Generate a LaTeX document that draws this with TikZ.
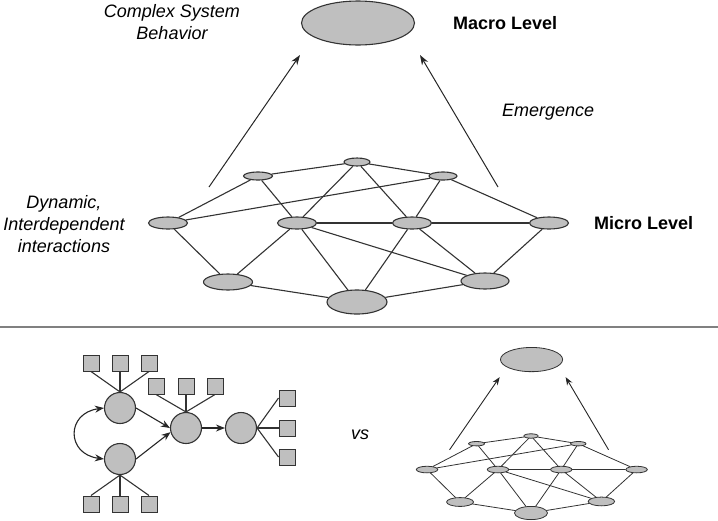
\documentclass[tikz,border=0pt]{standalone}
\usepackage{fontspec}
\setmainfont{Liberation Sans}
\usetikzlibrary{shapes.geometric,arrows.meta}
\tikzset{
  nodeline/.style={line width=1.1pt},
  netline/.style={draw=black!80, line width=1.1pt},
  uparrow/.style={draw=black!85, line width=1pt, -{Stealth[length=10pt,width=7pt]}},
  nd/.style={ellipse, draw=black!80, fill=gray!50, inner sep=0pt, nodeline},
  net/.pic={
    \node[nd,minimum width=113pt,minimum height=44pt] (-macro) at (1,-139) {};
    \node[nd,minimum width=26pt,minimum height=8pt] (-tm) at (0,0) {};
    \node[nd,minimum width=29pt,minimum height=8pt] (-ul) at (-99,14) {};
    \node[nd,minimum width=28pt,minimum height=8pt] (-ur) at (86,14) {};
    \node[nd,minimum width=39pt,minimum height=12pt] (-ml) at (-189,61) {};
    \node[nd,minimum width=39pt,minimum height=12pt] (-mcl) at (-60,61) {};
    \node[nd,minimum width=39pt,minimum height=12pt] (-mcr) at (55,61) {};
    \node[nd,minimum width=39pt,minimum height=12pt] (-mr) at (192,61) {};
    \node[nd,minimum width=49pt,minimum height=16pt] (-bl) at (-129,120) {};
    \node[nd,minimum width=60pt,minimum height=24pt] (-bc) at (0,140) {};
    \node[nd,minimum width=48pt,minimum height=16pt] (-br) at (128,119) {};
    \foreach \a/\b in {ul/tm, tm/ur, tm/mcl, tm/mcr, ul/ml, ul/mcl, ur/ml, ur/mcr, ur/mr,
                       ml/bl, mcl/mcr, mcr/mr, mcl/bl, mcl/bc, mcl/br, mcr/bc, mcr/br,
                       mr/br, bl/bc, bc/br}
      {\draw[netline] (-\a) -- (-\b);}
    \coordinate (-a1) at (-148,25);
    \coordinate (-a2) at (-57,-107);
    \coordinate (-b1) at (141,25);
    \coordinate (-b2) at (63,-107);
    \draw[uparrow] (-a1) -- (-a2);
    \draw[uparrow] (-b1) -- (-b2);
  }
}
\begin{document}
\begin{tikzpicture}[x=1pt,y=-1pt,
  cir/.style={circle, draw=black!80, fill=gray!50, minimum size=31pt, inner sep=0pt, line width=1.1pt},
  sq/.style={rectangle, draw=black!80, fill=gray!50, minimum size=16pt, inner sep=0pt, line width=1pt},
  link/.style={draw=black!80, line width=1.1pt},
  flow/.style={draw=black!85, line width=1.1pt, -{Stealth[length=9pt,width=7pt]}},
  twoway/.style={draw=black!85, line width=1.1pt, {Stealth[length=9pt,width=7pt]}-{Stealth[length=9pt,width=7pt]}},
  sep/.style={draw=black!50, line width=2pt},
  lab/.style={inner sep=0pt, font=\fontsize{18}{22}\selectfont},
  ilab/.style={lab, font=\fontsize{18}{22}\selectfont\itshape},
  blab/.style={lab, font=\fontsize{18}{22}\selectfont\bfseries}
]
\useasboundingbox (0,0) rectangle (718,520);

% top network
\pic (T) at (357,162) {net};

% labels top
\node[ilab, align=center] (csb) at (172,22) {Complex System\\Behavior};
\node[blab, anchor=west] (macro) at (453,23) {Macro Level};
\node[ilab, anchor=west] (emerg) at (502,112) {Emergence};
\node[blab, anchor=west] (micro) at (594,223) {Micro Level};
\node[ilab, align=center] (dyn) at (64,224) {Dynamic,\\Interdependent\\interactions};

% separator
\coordinate (sepL) at (0,327);
\coordinate (sepR) at (718,327);
\draw[sep] (sepL) -- (sepR);

% bottom left
\node[cir] (c1) at (120,408) {};
\node[cir] (c2) at (120,459) {};
\node[cir] (c3) at (186,428) {};
\node[cir] (c4) at (241,428) {};
\node[sq] (s11) at (91,363) {};
\node[sq] (s12) at (120,363) {};
\node[sq] (s13) at (149,363) {};
\node[sq] (s31) at (156,386) {};
\node[sq] (s32) at (186,386) {};
\node[sq] (s33) at (215,386) {};
\node[sq] (s21) at (91,504) {};
\node[sq] (s22) at (120,504) {};
\node[sq] (s23) at (149,504) {};
\node[sq] (s41) at (287,398) {};
\node[sq] (s42) at (287,428) {};
\node[sq] (s43) at (287,457) {};
\foreach \s in {s11,s12,s13} {\draw[link] (c1.north) -- (\s.south);}
\foreach \s in {s31,s32,s33} {\draw[link] (c3.north) -- (\s.south);}
\foreach \s in {s21,s22,s23} {\draw[link] (c2.south) -- (\s.north);}
\foreach \s in {s41,s42,s43} {\draw[link] (c4.east) -- (\s.west);}
\draw[flow] (c1.east) -- (c3.west);
\draw[flow] (c2.east) -- (c3.195);
\draw[flow] (c3.east) -- (c4.west);
\draw[twoway] (c1.west) .. controls (66,413) and (66,454) .. (c2.west);

\node[ilab] (vs) at (360,435) {vs};

% bottom right
\pic[scale=0.55, transform shape,
     nodeline/.style={line width=0.8pt},
     netline/.style={draw=black!80, line width=0.8pt},
     uparrow/.style={draw=black!85, line width=0.9pt, -{Stealth[length=8pt,width=6pt]}}]
  (B) at (531,436) {net};
\end{tikzpicture}
\end{document}
